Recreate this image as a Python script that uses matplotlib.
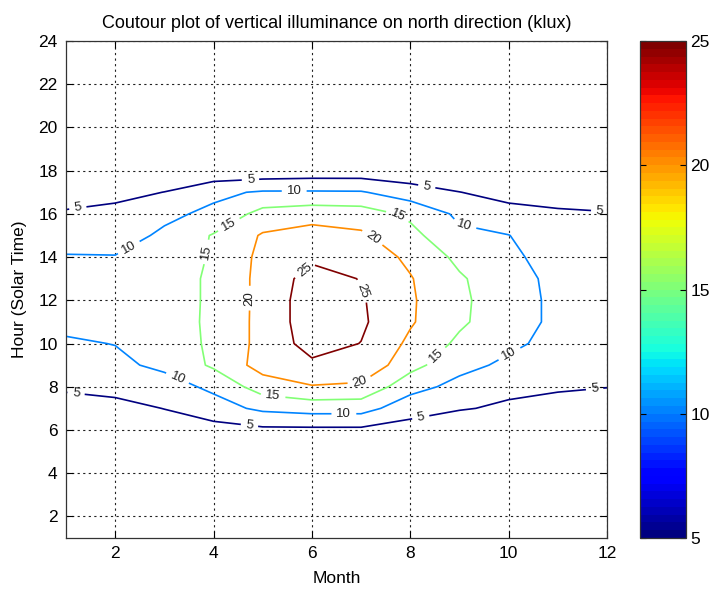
import numpy as np
import matplotlib
matplotlib.use("Agg")
import matplotlib.pyplot as plt
from matplotlib.colors import Normalize
from matplotlib.cm import ScalarMappable

plt.rcParams['font.family'] = ['Liberation Sans', 'DejaVu Sans']

months = list(range(1, 13))
hours = list(range(1, 25))

# vertical illuminance (klux), hours 1..24 for each month
jan = [0, 0, 0, 0, 0, 0, 1, 6.4, 8, 9.5, 11, 12, 11.5, 10.3, 8, 6, 1, 0, 0, 0, 0, 0, 0, 0]
feb = [0, 0, 0, 0, 0, 0, 2, 8, 9, 10.1, 12, 13, 12.5, 10.2, 8, 7, 3, 0, 0, 0, 0, 0, 0, 0]
mar = [0, 0, 0, 0, 0, 0, 5.2, 8, 11, 12, 12.5, 12.8, 12.8, 12.3, 10.8, 9, 5.1, 0, 0, 0, 0, 0, 0, 0]
apr = [0, 0, 0, 0, 0, 3, 8, 11, 15.8, 16, 16, 15.8, 15.8, 15.5, 15.4, 11, 9, 1, 0, 0, 0, 0, 0, 0]
may = [0, 0, 0, 0, 0, 4, 11, 17.5, 22, 21.5, 21.5, 21.5, 21.5, 21.3, 20.5, 16.75, 10.5, 1.5, 0, 0, 0, 0, 0, 0]
jun = [0, 0, 0, 0, 0, 4, 12, 19.7, 24, 27, 27.8, 27.8, 27, 24, 22, 18, 10.5, 2, 0, 0, 0, 0, 0, 0]
jul = [0, 0, 0, 0, 0, 4, 12, 19, 24, 24.9, 25.8, 25.5, 24.8, 23, 20.8, 17.5, 10.4, 2, 0, 0, 0, 0, 0, 0]
aug = [0, 0, 0, 0, 0, 3, 7, 11.8, 16.7, 19, 20.5, 20.6, 20.3, 19, 16.5, 14, 7.3, 1.55, 0, 0, 0, 0, 0, 0]
sep = [0, 0, 0, 0, 0, 0, 5.5, 8.5, 11.5, 14, 15.8, 16, 15.6, 13.8, 11, 9, 5.1, 0, 0, 0, 0, 0, 0, 0]
oct_ = [0, 0, 0, 0, 0, 0, 4, 6.5, 9, 11, 12, 12, 11.8, 11, 10.1, 7, 3, 0, 0, 0, 0, 0, 0, 0]
nov = [0, 0, 0, 0, 0, 0, 2, 6, 7.5, 8.5, 9, 9, 8.8, 8, 7, 6, 2, 0, 0, 0, 0, 0, 0, 0]
dec = [0, 0, 0, 0, 0, 0, 1, 5.2, 6.5, 7.5, 8, 8, 7.8, 7.2, 6.5, 5.5, 1, 0, 0, 0, 0, 0, 0, 0]

levels = [5, 10, 15, 20, 25]
x_ticks = [2, 4, 6, 8, 10, 12]
y_ticks = [2, 4, 6, 8, 10, 12, 14, 16, 18, 20, 22, 24]
cbar_ticks = [5, 10, 15, 20, 25]

Z = np.array([jan, feb, mar, apr, may, jun, jul, aug, sep, oct_, nov, dec]).T
X, Y = np.meshgrid(months, hours)

W, H = 713, 590
fig = plt.figure(figsize=(W / 100, H / 100), dpi=100)
ax = fig.add_axes([66 / W, 1 - 538 / H, (607 - 66) / W, (538 - 41) / H])

cmap = plt.get_cmap('jet', 64)
norm = Normalize(vmin=5, vmax=25)
cs = ax.contour(X, Y, Z, levels=levels, cmap=cmap, norm=norm, linewidths=1.2)

# approximate label anchor spots (nearest contour point gets the label)
label_pos = [
    (4.75, 17.6), (8.33, 17.2), (1.24, 16.28), (11.85, 16.05), (1.2, 7.6), (4.73, 6.2), (8.22, 6.5), (11.75, 7.85),
    (5.64, 17.0), (9.09, 15.4), (2.25, 14.55), (3.2, 8.05), (6.65, 6.74), (10.07, 9.3),
    (4.29, 15.58), (7.71, 15.8), (3.96, 14.2), (8.65, 9.12), (5.2, 7.35),
    (6.98, 8.05), (4.84, 12.1), (7.3, 15.1),
    (5.89, 13.3), (6.91, 12.35),
]
ax.clabel(cs, levels=levels, inline=True, fontsize=9.5, colors='#222222', fmt='%d', manual=label_pos)

ax.set_xlim(1, 12)
ax.set_ylim(1, 24)
ax.set_xticks(x_ticks)
ax.set_yticks(y_ticks)
ax.grid(True, color='#222222', linestyle=(0, (2, 3)), linewidth=0.8)
ax.tick_params(direction='in', length=5, labelsize=12.5, top=True, right=True, pad=6)
for s in ax.spines.values():
    s.set_linewidth(0.9)
    s.set_color('#333333')
ax.set_xlabel('Month', fontsize=12.5, labelpad=7)
ax.set_ylabel('Hour (Solar Time)', fontsize=12.5, labelpad=8)
ax.set_title('Coutour plot of vertical illuminance on north direction (klux)', fontsize=13, pad=9)

cax = fig.add_axes([640 / W, 1 - 538 / H, 46 / W, (538 - 41) / H])
sm = ScalarMappable(norm=norm, cmap=cmap)
cb = fig.colorbar(sm, cax=cax, ticks=cbar_ticks)
cb.outline.set_linewidth(0.9)
cb.outline.set_edgecolor('#333333')
cax.tick_params(direction='in', length=4, labelsize=12.5, left=True, right=True, pad=3)

fig.savefig('out.png', dpi=100)
